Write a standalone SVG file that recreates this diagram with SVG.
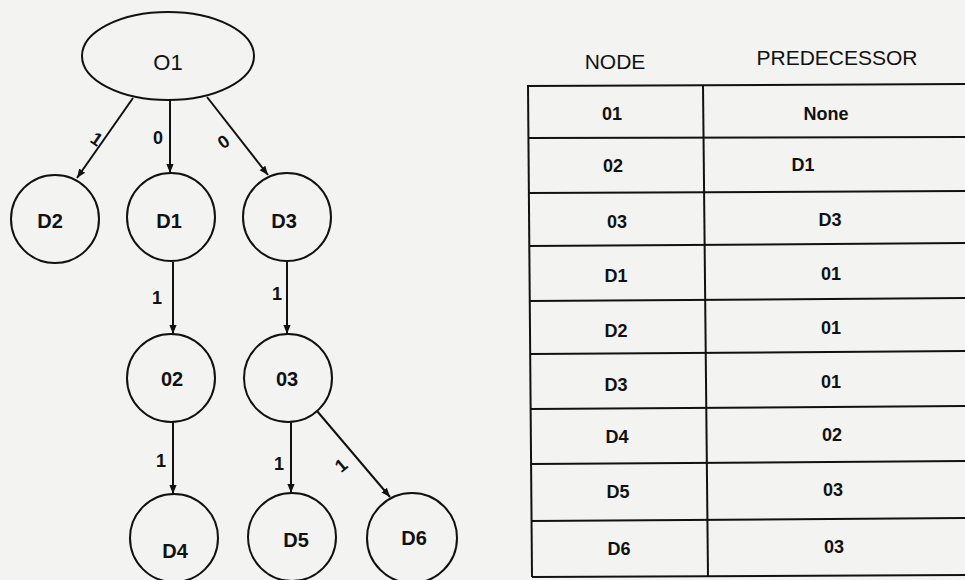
<svg xmlns="http://www.w3.org/2000/svg" width="965" height="580" viewBox="0 0 965 580">
  <defs>
    <marker id="arrow" viewBox="0 0 10 10" refX="10" refY="5" markerWidth="9" markerHeight="9" markerUnits="userSpaceOnUse" orient="auto">
      <path d="M0,1 L10,5 L0,9 Z" fill="#111"/>
    </marker>
  </defs>
  <style>
    .node { fill: none; stroke: #111; stroke-width: 2; }
    .lbl { font-family: "Liberation Sans", Arial, sans-serif; font-size: 20px; font-weight: bold; fill: #111; text-anchor: middle; }
    .root { font-weight: normal; font-size: 22px; }
    .edge { stroke: #111; stroke-width: 2; fill: none; marker-end: url(#arrow); }
    .elbl { font-family: "Liberation Sans", Arial, sans-serif; font-size: 18px; font-weight: bold; fill: #111; text-anchor: middle; }
    .grid { stroke: #111; stroke-width: 2; fill: none; }
    .hd { font-family: "Liberation Sans", Arial, sans-serif; font-size: 21px; fill: #111; text-anchor: middle; }
    .cell { font-family: "Liberation Sans", Arial, sans-serif; font-size: 18px; font-weight: bold; fill: #111; text-anchor: middle; }
  </style>
  <rect width="965" height="580" fill="#f3f3f1"/>

  <!-- tree nodes -->
  <g id="O1"><ellipse class="node" cx="168" cy="56" rx="86" ry="44"/><text class="lbl root" x="168" y="70">O1</text></g>
  <g id="D2"><circle class="node" cx="55" cy="219" r="44"/><text class="lbl" x="50" y="228">D2</text></g>
  <g id="D1"><circle class="node" cx="171" cy="217" r="44"/><text class="lbl" x="169" y="228">D1</text></g>
  <g id="D3"><circle class="node" cx="287" cy="217" r="44"/><text class="lbl" x="284" y="228">D3</text></g>
  <g id="O2"><circle class="node" cx="171" cy="378" r="44"/><text class="lbl" x="172" y="386">02</text></g>
  <g id="O3"><circle class="node" cx="288" cy="378" r="44"/><text class="lbl" x="287" y="386">03</text></g>
  <g id="D4"><circle class="node" cx="174" cy="538" r="44"/><text class="lbl" x="175" y="558">D4</text></g>
  <g id="D5"><circle class="node" cx="292" cy="537" r="44"/><text class="lbl" x="296" y="547">D5</text></g>
  <g id="D6"><circle class="node" cx="412" cy="538" r="45"/><text class="lbl" x="414" y="545">D6</text></g>

  <!-- connectors with weights -->
  <g id="edges">
    <line class="edge" x1="133" y1="98" x2="77" y2="178"/>
    <line class="edge" x1="170" y1="100" x2="170" y2="173"/>
    <line class="edge" x1="207" y1="97" x2="268" y2="175"/>
    <line class="edge" x1="173" y1="262" x2="173" y2="334"/>
    <line class="edge" x1="287" y1="262" x2="287" y2="334"/>
    <line class="edge" x1="173" y1="422" x2="173" y2="494"/>
    <line class="edge" x1="291" y1="422" x2="291" y2="493"/>
    <line class="edge" x1="317" y1="411" x2="390" y2="497"/>
    <text class="elbl" transform="translate(93,144) rotate(35)">1</text>
    <text class="elbl" x="158" y="144">0</text>
    <text class="elbl" transform="translate(227,147) rotate(-35)">0</text>
    <text class="elbl" x="157" y="304">1</text>
    <text class="elbl" x="277" y="300">1</text>
    <text class="elbl" x="161" y="467">1</text>
    <text class="elbl" x="279" y="470">1</text>
    <text class="elbl" transform="translate(345,470) rotate(-40)">1</text>
  </g>

  <!-- predecessor table -->
  <g id="table">
    <text class="hd" x="615" y="69">NODE</text>
    <text class="hd" x="837" y="65">PREDECESSOR</text>
    <line class="grid" x1="528" y1="85" x2="532" y2="577"/>
    <line class="grid" x1="703" y1="85" x2="708" y2="577"/>
    <line class="grid" x1="528" y1="86" x2="965" y2="84"/>
    <line class="grid" x1="528" y1="138" x2="965" y2="137"/>
    <line class="grid" x1="529" y1="193" x2="965" y2="191"/>
    <line class="grid" x1="529" y1="246" x2="965" y2="243"/>
    <line class="grid" x1="529" y1="301" x2="965" y2="298"/>
    <line class="grid" x1="530" y1="354" x2="965" y2="351"/>
    <line class="grid" x1="530" y1="409" x2="965" y2="406"/>
    <line class="grid" x1="531" y1="464" x2="965" y2="461"/>
    <line class="grid" x1="531" y1="521" x2="965" y2="518"/>
    <line class="grid" x1="532" y1="577" x2="965" y2="575"/>

    <text class="cell" x="612" y="120">01</text><text class="cell" x="826" y="120">None</text>
    <text class="cell" x="613" y="172">02</text><text class="cell" x="803" y="171">D1</text>
    <text class="cell" x="617" y="228">03</text><text class="cell" x="830" y="226">D3</text>
    <text class="cell" x="616" y="282">D1</text><text class="cell" x="831" y="280">01</text>
    <text class="cell" x="616" y="337">D2</text><text class="cell" x="831" y="334">01</text>
    <text class="cell" x="616" y="391">D3</text><text class="cell" x="831" y="388">01</text>
    <text class="cell" x="617" y="443">D4</text><text class="cell" x="832" y="441">02</text>
    <text class="cell" x="618" y="498">D5</text><text class="cell" x="833" y="496">03</text>
    <text class="cell" x="619" y="555">D6</text><text class="cell" x="834" y="553">03</text>
  </g>
</svg>
